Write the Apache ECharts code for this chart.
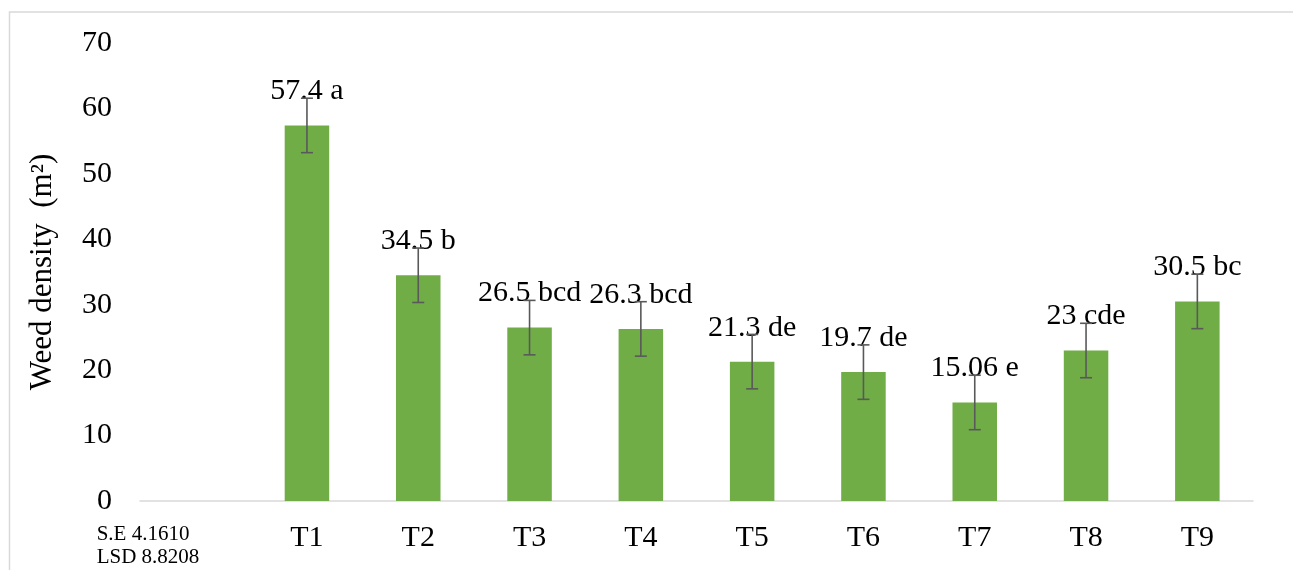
<!DOCTYPE html>
<html>
<head>
<meta charset="utf-8">
<script src="https://cdn.jsdelivr.net/npm/echarts@6/dist/echarts.min.js"></script>
<style>
  html, body { margin: 0; padding: 0; background: #ffffff; }
  #chart { width: 1293px; height: 570px; }
</style>
</head>
<body>
<div id="chart"></div>
<script>
// ---- data ----
const categories = ['S.E 4.1610\nLSD 8.8208', 'T1', 'T2', 'T3', 'T4', 'T5', 'T6', 'T7', 'T8', 'T9'];
const densities  = [null, 57.4, 34.5, 26.5, 26.3, 21.3, 19.7, 15.06, 23, 30.5];
const letters    = ['', 'a', 'b', 'bcd', 'bcd', 'de', 'de', 'e', 'cde', 'bc'];
const standardError = 4.161;
const yTicks = [0, 10, 20, 30, 40, 50, 60, 70];

const FONT = '"Liberation Serif", "Times New Roman", serif';

const errorData = densities
  .map((v, i) => (v === null ? null : [i, v, standardError]))
  .filter(d => d !== null);

const chart = echarts.init(document.getElementById('chart'), null, { renderer: 'canvas' });

chart.setOption({
  backgroundColor: '#ffffff',
  animation: false,
  graphic: [{
    type: 'rect',
    shape: { x: 9.5, y: 12, width: 1320, height: 620 },
    style: { fill: 'none', stroke: '#d9d9d9', lineWidth: 1.5 },
    silent: true,
    z: -10
  }],
  grid: { left: 140, right: 40, top: 43, bottom: 69, containLabel: false },
  xAxis: {
    type: 'category',
    data: categories,
    axisLine: { show: true, lineStyle: { color: '#d9d9d9', width: 1.5 } },
    axisTick: { show: false },
    splitLine: { show: false },
    axisLabel: {
      interval: 0,
      margin: 22,
      color: '#000000',
      fontFamily: FONT,
      fontSize: 30,
      lineHeight: 30,
      formatter: function (value) {
        if (value.indexOf('\n') >= 0) {
          return value.split('\n').map(s => '{se|' + s + '}').join('\n');
        }
        return value;
      },
      rich: {
        se: { fontFamily: FONT, fontSize: 21, lineHeight: 23, width: 198, align: 'left', color: '#000000' }
      }
    }
  },
  yAxis: {
    type: 'value',
    min: yTicks[0],
    max: yTicks[yTicks.length - 1],
    interval: yTicks[1] - yTicks[0],
    axisLine: { show: false },
    axisTick: { show: false },
    splitLine: { show: false },
    axisLabel: { margin: 28, color: '#000000', fontFamily: FONT, fontSize: 30 },
    name: 'Weed density  (m²)',
    nameLocation: 'middle',
    nameGap: 82,
    nameTextStyle: { color: '#000000', fontFamily: FONT, fontSize: 31 }
  },
  series: [
    {
      type: 'bar',
      data: densities,
      barWidth: '40%',
      itemStyle: { color: '#70ad47' },
      label: {
        show: true,
        position: 'top',
        distance: 19,
        color: '#000000',
        fontFamily: FONT,
        fontSize: 30,
        formatter: function (p) {
          return p.value + ' ' + letters[p.dataIndex];
        }
      },
      z: 2
    },
    {
      type: 'custom',
      data: errorData,
      z: 5,
      renderItem: function (params, api) {
        const idx = api.value(0);
        const v = api.value(1);
        const e = api.value(2);
        const top = api.coord([idx, v + e]);
        const bot = api.coord([idx, v - e]);
        const hw = 6;
        const st = { stroke: '#595959', lineWidth: 1.6 };
        return {
          type: 'group',
          children: [
            { type: 'line', shape: { x1: top[0], y1: top[1], x2: bot[0], y2: bot[1] }, style: st },
            { type: 'line', shape: { x1: top[0] - hw, y1: top[1], x2: top[0] + hw, y2: top[1] }, style: st },
            { type: 'line', shape: { x1: bot[0] - hw, y1: bot[1], x2: bot[0] + hw, y2: bot[1] }, style: st }
          ]
        };
      }
    }
  ]
});
</script>
</body>
</html>
